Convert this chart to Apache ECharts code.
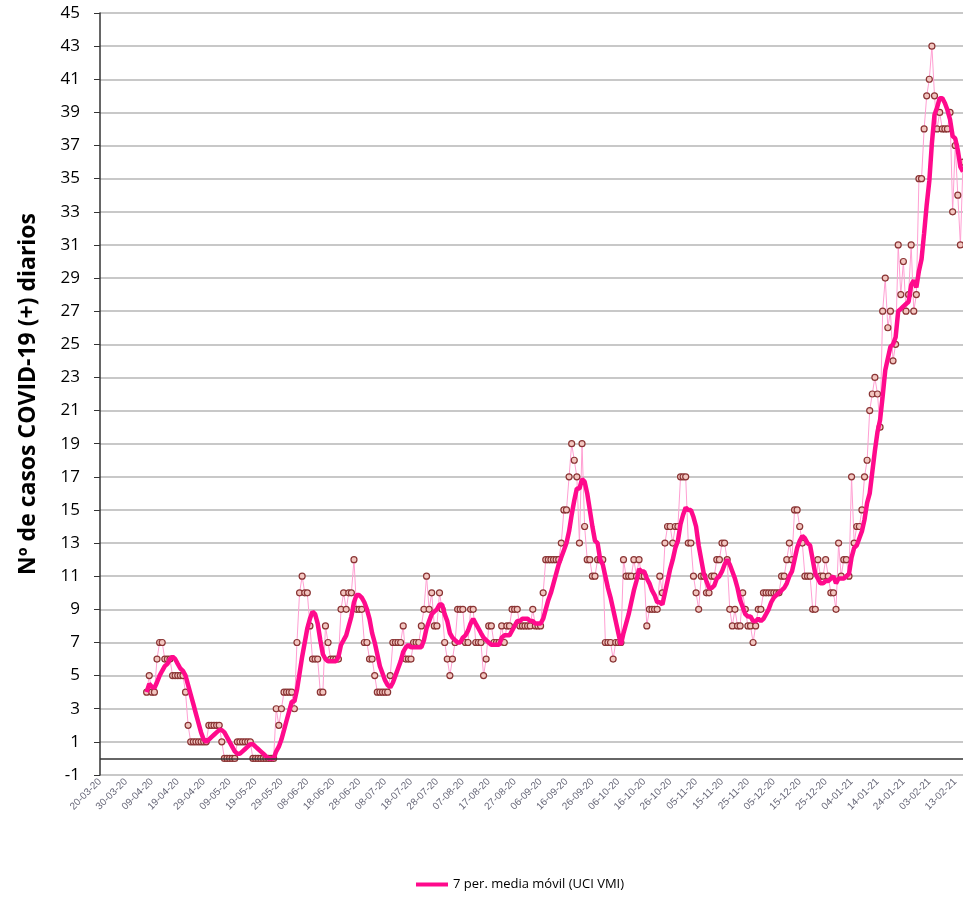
<!DOCTYPE html>
<html>
<head>
<meta charset="utf-8">
<script src="https://cdn.jsdelivr.net/npm/echarts@6/dist/echarts.min.js"></script>
<style>
    html, body { margin: 0; padding: 0; background: #fff; }
    #chart { width: 963px; height: 897px; }
</style>
</head>
<body>
<div id="chart"></div>
<script>
// casos diarios, un valor por día desde el 20-03-20 (null = sin dato)
var casos = [
    null, null, null, null, null, null, null, null, null, null,   // 0-9
    null, null, null, null, null, null, null, null, 4, 5,         // 10-19
    4, 4, 6, 7, 7, 6, 6, 6, 5, 5,                                 // 20-29
    5, 5, 5, 4, 2, 1, 1, 1, 1, 1,                                 // 30-39
    1, 1, 2, 2, 2, 2, 2, 1, 0, 0,                                 // 40-49
    0, 0, 0, 1, 1, 1, 1, 1, 1, 0,                                 // 50-59
    0, 0, 0, 0, 0, 0, 0, 0, 3, 2,                                 // 60-69
    3, 4, 4, 4, 4, 3, 7, 10, 11, 10,                              // 70-79
    10, 8, 6, 6, 6, 4, 4, 8, 7, 6,                                // 80-89
    6, 6, 6, 9, 10, 9, 10, 10, 12, 9,                             // 90-99
    9, 9, 7, 7, 6, 6, 5, 4, 4, 4,                                 // 100-109
    4, 4, 5, 7, 7, 7, 7, 8, 6, 6,                                 // 110-119
    6, 7, 7, 7, 8, 9, 11, 9, 10, 8,                               // 120-129
    8, 10, 9, 7, 6, 5, 6, 7, 9, 9,                                // 130-139
    9, 7, 7, 9, 9, 7, 7, 7, 5, 6,                                 // 140-149
    8, 8, 7, 7, 7, 8, 7, 8, 8, 9,                                 // 150-159
    9, 9, 8, 8, 8, 8, 8, 9, 8, 8,                                 // 160-169
    8, 10, 12, 12, 12, 12, 12, 12, 13, 15,                        // 170-179
    15, 17, 19, 18, 17, 13, 19, 14, 12, 12,                       // 180-189
    11, 11, 12, 12, 12, 7, 7, 7, 6, 7,                            // 190-199
    7, 7, 12, 11, 11, 11, 12, 11, 12, 11,                         // 200-209
    11, 8, 9, 9, 9, 9, 11, 10, 13, 14,                            // 210-219
    14, 13, 14, 14, 17, 17, 17, 13, 13, 11,                       // 220-229
    10, 9, 11, 11, 10, 10, 11, 11, 12, 12,                        // 230-239
    13, 13, 12, 9, 8, 9, 8, 8, 10, 9,                             // 240-249
    8, 8, 7, 8, 9, 9, 10, 10, 10, 10,                             // 250-259
    10, 10, 10, 11, 11, 12, 13, 12, 15, 15,                       // 260-269
    14, 13, 11, 11, 11, 9, 9, 12, 11, 11,                         // 270-279
    12, 11, 10, 10, 9, 13, 11, 12, 12, 11,                        // 280-289
    17, 13, 14, 14, 15, 17, 18, 21, 22, 23,                       // 290-299
    22, 20, 27, 29, 26, 27, 24, 25, 31, 28,                       // 300-309
    30, 27, 28, 31, 27, 28, 35, 35, 38, 40,                       // 310-319
    41, 43, 40, 38, 39, 38, 38, 38, 39, 33,                       // 320-329
    37, 34, 31, 36                                                // 330-333
];

// fechas dd-mm-yy
var fechas = [];
for (var i = 0; i < casos.length; i++) {
    var d = new Date(2020, 2, 20 + i);
    var dd = ('0' + d.getDate()).slice(-2);
    var mm = ('0' + (d.getMonth() + 1)).slice(-2);
    var yy = String(d.getFullYear()).slice(-2);
    fechas.push(dd + '-' + mm + '-' + yy);
}

// 7 per. media móvil (igual que la línea de tendencia de la hoja)
var media = [];
for (var i = 0; i < casos.length; i++) {
    var suma = 0, n = 0;
    for (var j = Math.max(0, i - 6); j <= i; j++) {
        if (casos[j] != null) { suma += casos[j]; n++; }
    }
    media.push(casos[i] == null || n == 0 ? null : +(suma / n).toFixed(2));
}

var nombreMedia = '7 per. media móvil (UCI VMI)';

var myChart = echarts.init(document.getElementById('chart'));

var option = {
    animation: false,
    textStyle: { fontFamily: 'Open Sans' },
    grid: { left: 100, right: 0, top: 13, bottom: 122 },
    legend: {
        data: [nombreMedia],
        left: 411,
        top: 873,
        icon: 'rect',
        itemWidth: 32,
        itemHeight: 4,
        textStyle: { fontSize: 13, color: '#000', fontFamily: 'Open Sans' }
    },
    xAxis: {
        type: 'category',
        data: fechas,
        boundaryGap: false,
        position: 'bottom',
        axisLine: { show: false, onZero: false },
        axisTick: { show: false },
        axisLabel: {
            interval: 9,
            rotate: 45,
            fontSize: 10,
            color: '#667',
            margin: 5,
            fontFamily: 'Liberation Sans'
        },
        splitLine: { show: false }
    },
    yAxis: {
        type: 'value',
        min: -1,
        max: 45,
        interval: 2,
        name: 'Nº de casos COVID-19 (+) diarios',
        nameLocation: 'middle',
        nameGap: 60,
        nameTextStyle: { fontSize: 23, fontWeight: 'bold', color: '#000' },
        axisLine: { show: true, lineStyle: { color: '#333', width: 1.5 } },
        axisTick: { show: true, length: 6, lineStyle: { color: '#333' } },
        axisLabel: { fontSize: 17, color: '#000', margin: 20 },
        splitLine: { lineStyle: { color: '#c8c8c8', width: 2 } }
    },
    series: [{
        name: 'Casos diarios',
        type: 'line',
        data: casos,
        showAllSymbol: true,
        symbol: 'circle',
        symbolSize: 6,
        lineStyle: { color: '#ff9fd2', width: 1 },
        itemStyle: { color: '#f2c6c0', borderColor: '#8a3434', borderWidth: 1.2 },
        // línea del cero
        markLine: {
            silent: true,
            symbol: 'none',
            label: { show: false },
            lineStyle: { color: '#333', width: 1.5, type: 'solid' },
            data: [{ yAxis: 0 }]
        },
        z: 2
    }, {
        name: nombreMedia,
        type: 'line',
        data: media,
        symbol: 'none',
        lineStyle: { color: '#ff0a8c', width: 4.5 },
        itemStyle: { color: '#ff0a8c' },
        z: 3
    }]
};

myChart.setOption(option);
</script>
</body>
</html>
